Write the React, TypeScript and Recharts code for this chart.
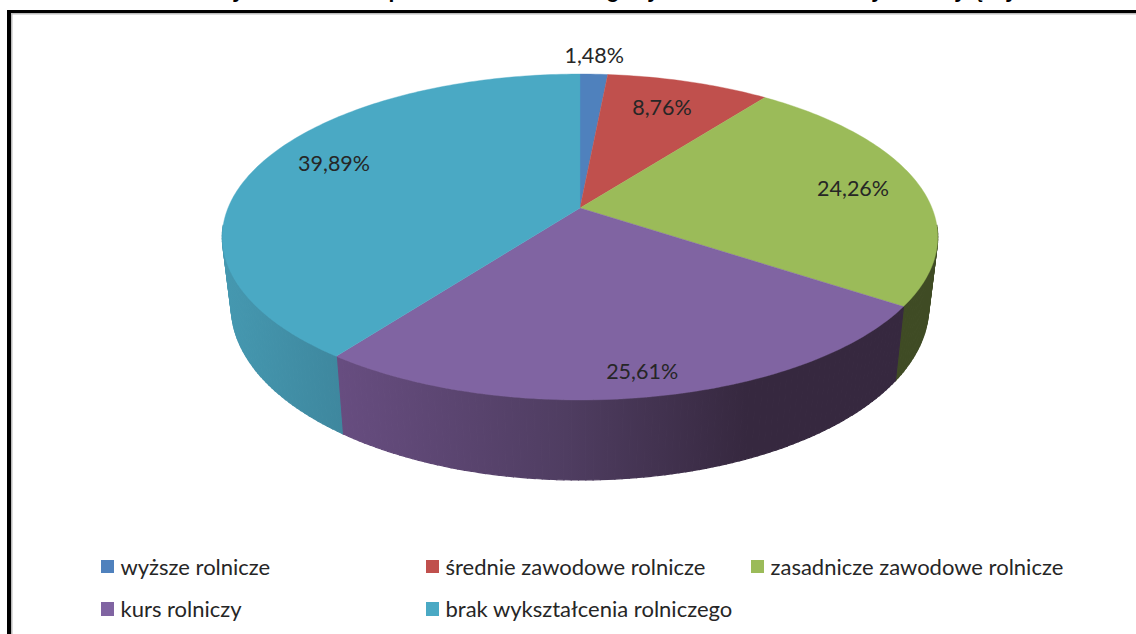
import { Legend, Pie, PieChart } from 'recharts';

const categories = [
  'wyższe rolnicze',
  'średnie zawodowe rolnicze',
  'zasadnicze zawodowe rolnicze',
  'kurs rolniczy',
  'brak wykształcenia rolniczego',
];
const shares = [1.48, 8.76, 24.26, 25.61, 39.89];
const shareLabels = ['1,48%', '8,76%', '24,26%', '25,61%', '39,89%'];
const topColors = ['#4f81bd', '#c0504d', '#9bbb59', '#8064a2', '#4aa9c4'];

// only the descenders of the cropped title survive in the picture
const titleGlyphs = ['y', 'p', 'g', 'y', 'y', 'y', 'ą', 'y'];
const titleGlyphX = [238, 395, 613, 653, 877, 960, 977, 1011];

const data = categories.map((name, i) => ({ name, value: shares[i], fill: topColors[i] }));

const WIDTH = 1136;
const HEIGHT = 634;
const FONT = 'Lato, sans-serif';

// the disc is a circle seen in perspective, so the apex sits above the ellipse centre
const APEX_X = 580;
const APEX_Y = 208;
const PERSP = -0.178;
const SCALE_X = 352;
const SCALE_Y = 157.8;

const project = (turn: number, r = 1) => {
  const rad = (turn * Math.PI) / 180;
  const u = r * Math.sin(rad);
  const v = -r * Math.cos(rad);
  const w = 1 + PERSP * v;
  return { x: (SCALE_X * u) / w, y: (SCALE_Y * v) / w };
};

const topPoint = (turn: number) => {
  const p = project(turn);
  return [APEX_X + p.x, APEX_Y + p.y];
};

const bottomPoint = (turn: number) => {
  const p = project(turn);
  return [APEX_X + 0.975 * p.x, APEX_Y + 1.064 * p.y + 67.7];
};

const steps = (from: number, to: number, size: number) => {
  const out: number[] = [];
  for (let t = from; t < to; t += size) out.push(t);
  out.push(to);
  return out;
};

function TopSector(props: any) {
  const from = 90 - props.startAngle;
  const to = 90 - props.endAngle;
  const rim = steps(from, to, 1).map((t) => topPoint(t).map((n) => n.toFixed(2)).join(' '));
  const d = `M${APEX_X} ${APEX_Y} L${rim.join(' L')} Z`;
  return <path d={d} fill={props.fill} stroke={props.fill} strokeWidth={0.4} />;
}

// wall of the disc: only the part of the rim that faces the viewer
function SideSector(props: any) {
  const from = Math.max(90 - props.startAngle, 96);
  const to = Math.min(90 - props.endAngle, 264);
  if (from >= to) return <g />;
  const fill = `url(#side${props.index})`;
  const ts = steps(from, to, 1);
  return (
    <g>
      {ts.slice(1).map((t, i) => {
        const a = topPoint(ts[i]);
        const b = topPoint(t);
        const c = bottomPoint(t);
        const e = bottomPoint(ts[i]);
        return (
          <path
            key={t}
            d={`M${a.join(' ')} L${b.join(' ')} L${c.join(' ')} L${e.join(' ')} Z`}
            fill={fill}
            stroke={fill}
            strokeWidth={1.2}
          />
        );
      })}
    </g>
  );
}

const labelSpots = [
  { r: 1.16, dx: -1.5, dy: -1 },
  { r: 0.775, dx: -5, dy: 0 },
  { r: 0.805, dx: 0, dy: 0 },
  { r: 0.885, dx: 0, dy: 0 },
  { r: 0.77, dx: 1, dy: -9 },
];

function SliceLabel(props: any) {
  const spot = labelSpots[props.index];
  const p = project(90 - props.midAngle, spot.r);
  return (
    <text
      x={APEX_X + p.x + spot.dx}
      y={APEX_Y + p.y + spot.dy}
      textAnchor="middle"
      dominantBaseline="central"
      fontFamily={FONT}
      fontSize={21.5}
      fill="#262626"
    >
      {shareLabels[props.index]}
    </text>
  );
}

const legendSpots = [
  { left: 100.5, top: 556.5 },
  { left: 425.5, top: 556.5 },
  { left: 750.5, top: 556.5 },
  { left: 100.5, top: 599 },
  { left: 425.5, top: 599 },
];

function LegendRows() {
  return (
    <div>
      {categories.map((name, i) => (
        <div key={name} style={{ position: 'absolute', ...legendSpots[i], height: 20, whiteSpace: 'nowrap' }}>
          <span
            style={{
              position: 'absolute',
              left: 0,
              top: 3,
              width: 13.5,
              height: 13.5,
              background: topColors[i],
            }}
          />
          <span
            style={{
              position: 'absolute',
              left: 20,
              top: 0,
              lineHeight: '20px',
              fontFamily: FONT,
              fontSize: 22,
              color: '#262626',
            }}
          >
            {name}
          </span>
        </div>
      ))}
    </div>
  );
}

export default function App() {
  return (
    <div style={{ position: 'absolute', left: 0, top: 0, width: WIDTH, height: HEIGHT, background: '#fff' }}>
      <PieChart width={WIDTH} height={HEIGHT} margin={{ top: 0, right: 0, bottom: 0, left: 0 }} accessibilityLayer={false}>
        <defs>
          <linearGradient id="side0" gradientUnits="userSpaceOnUse" x1="0" x2="1" y1="0" y2="0">
            <stop offset="0" stopColor="#2f4a6e" />
          </linearGradient>
          <linearGradient id="side1" gradientUnits="userSpaceOnUse" x1="0" x2="1" y1="0" y2="0">
            <stop offset="0" stopColor="#6d2e2c" />
          </linearGradient>
          <linearGradient id="side2" gradientUnits="userSpaceOnUse" x1="890" x2="940" y1="0" y2="0">
            <stop offset="0" stopColor="#3f4b24" />
            <stop offset="1" stopColor="#3f4b24" />
          </linearGradient>
          <linearGradient id="side3" gradientUnits="userSpaceOnUse" x1="340" x2="905" y1="0" y2="0">
            <stop offset="0" stopColor="#674d80" />
            <stop offset="0.4" stopColor="#4f3d61" />
            <stop offset="0.72" stopColor="#36283f" />
            <stop offset="1" stopColor="#36283f" />
          </linearGradient>
          <linearGradient id="side4" gradientUnits="userSpaceOnUse" x1="225" x2="342" y1="0" y2="0">
            <stop offset="0" stopColor="#4598b0" />
            <stop offset="1" stopColor="#3e879e" />
          </linearGradient>
        </defs>

        <rect x={7} y={10} width={WIDTH - 7} height={3} fill="#000" />
        <rect x={7} y={10} width={4} height={HEIGHT - 10} fill="#000" />
        <rect x={11} y={13} width={WIDTH - 11} height={1.5} fill="#bbb" />
        <rect x={11} y={13} width={1.5} height={HEIGHT - 13} fill="#bbb" />
        {titleGlyphs.map((glyph, i) => (
          <text
            key={i}
            x={titleGlyphX[i]}
            y={-2}
            textAnchor="middle"
            fontFamily="'Liberation Sans', sans-serif"
            fontWeight={700}
            fontSize={21}
            fill="#000"
          >
            {glyph}
          </text>
        ))}

        <Pie
          data={data}
          dataKey="value"
          nameKey="name"
          cx={APEX_X}
          cy={APEX_Y}
          outerRadius={150}
          startAngle={90}
          endAngle={-270}
          legendType="none"
          shape={SideSector}
          isAnimationActive={false}
        />
        <Pie
          data={data}
          dataKey="value"
          nameKey="name"
          cx={APEX_X}
          cy={APEX_Y}
          outerRadius={150}
          startAngle={90}
          endAngle={-270}
          shape={TopSector}
          label={SliceLabel}
          labelLine={false}
          isAnimationActive={false}
        />
        <Legend
          content={LegendRows}
          wrapperStyle={{ position: 'absolute', left: 0, top: 0, width: WIDTH, height: 0 }}
        />
      </PieChart>
    </div>
  );
}
